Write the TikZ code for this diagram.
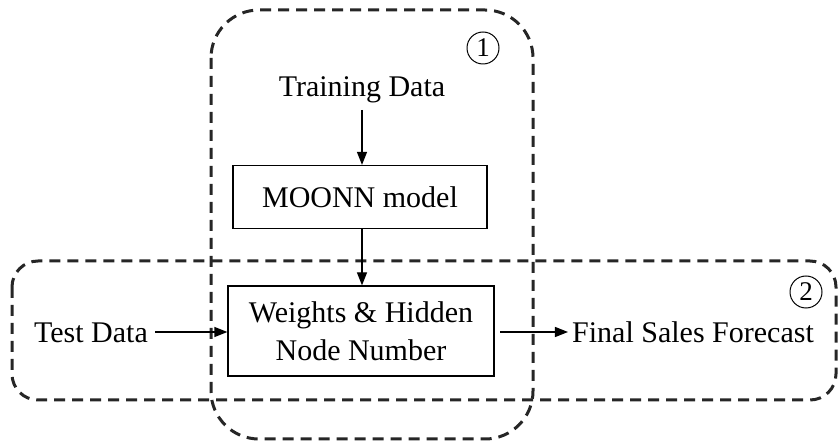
\documentclass[tikz,border=0pt]{standalone}
\usepackage{fontspec}
\setmainfont{Liberation Serif}
\usetikzlibrary{arrows.meta}
\begin{document}
\begin{tikzpicture}[x=1pt,y=-1pt,
  region/.style={draw=black!85,line width=3pt,dash pattern=on 11pt off 7pt},
  procbox/.style={draw,line width=1.2pt,minimum width=#1,inner sep=0pt,align=center,font=\fontsize{30}{38}\selectfont},
  lbl/.style={inner sep=0pt,font=\fontsize{30}{36}\selectfont},
  num/.style={draw,circle,line width=1pt,minimum size=32pt,inner sep=0pt,font=\fontsize{27}{27}\selectfont},
  flow/.style={line width=1.2pt,-{Triangle[length=13pt,width=10pt]}}]
\useasboundingbox (0,0) rectangle (839,446);
\draw[region,rounded corners=48pt] (211,10) rectangle (533,439);
\draw[region,rounded corners=26pt] (12,261) rectangle (836,400);
\node[num] (c1) at (483,48) {1};
\node[num] (c2) at (806,292) {2};
\node[lbl,anchor=base] (train) at (362,97) {Training Data};
\node[procbox=254pt,minimum height=63pt] (moonn) at (360,197) {MOONN model};
\node[procbox=266pt,minimum height=90pt] (wts) at (361,331) {Weights \& Hidden\\Node Number};
\node[lbl,anchor=base] (test) at (91,343) {Test Data};
\node[lbl,anchor=base] (final) at (693,343) {Final Sales Forecast};
\coordinate (tS) at (362,110);
\coordinate (tdE) at (155,332);
\coordinate (wE) at (500,332);
\draw[flow] (tS) -- (moonn.north -| tS);
\draw[flow] (moonn.south -| tS) -- (wts.north -| tS);
\draw[flow] (tdE) -- (wts.west |- tdE);
\draw[flow] (wE) -- ([xshift=-4pt]final.west |- wE);
\end{tikzpicture}
\end{document}
